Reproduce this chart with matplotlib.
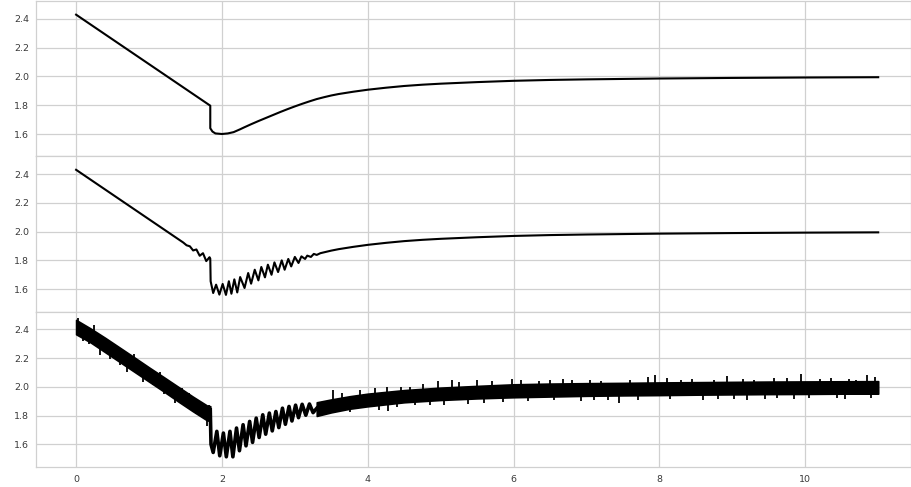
import matplotlib
matplotlib.use("Agg")
import matplotlib.pyplot as plt

# smooth response (top panel)
base_x = [0.0, 1.84, 1.84, 1.87, 1.91, 2.0, 2.08, 2.16, 2.25, 2.3, 2.4, 2.5, 2.6,
          2.7, 2.8, 2.9, 3.0, 3.1, 3.2, 3.3, 3.4, 3.5, 3.6, 3.8, 4.0, 4.25, 4.5,
          4.75, 5.0, 5.5, 6.0, 6.5, 7.0, 7.5, 8.0, 9.0, 10.0, 11.0]
base_y = [2.43, 1.797, 1.640, 1.617, 1.604, 1.600, 1.604, 1.613, 1.633, 1.645,
          1.668, 1.690, 1.711, 1.732, 1.753, 1.773, 1.792, 1.810, 1.827, 1.843,
          1.856, 1.868, 1.878, 1.894, 1.908, 1.922, 1.934, 1.943, 1.950, 1.961,
          1.970, 1.976, 1.980, 1.983, 1.986, 1.990, 1.993, 1.995]

# oscillating part of the middle panel (peaks / troughs)
wig_x = [1.47, 1.515, 1.56, 1.605, 1.65, 1.695, 1.74, 1.785, 1.83, 1.84, 1.845,
         1.88, 1.92, 1.965, 2.01, 2.055, 2.095, 2.13, 2.17, 2.21, 2.25, 2.31,
         2.36, 2.40, 2.45, 2.50, 2.54, 2.59, 2.63, 2.68, 2.72, 2.77, 2.82, 2.86,
         2.91, 2.95, 3.00, 3.05, 3.09, 3.14, 3.17, 3.22, 3.26, 3.30, 3.35]
wig_y = [1.924, 1.905, 1.898, 1.869, 1.876, 1.832, 1.850, 1.795, 1.822, 1.812,
         1.655, 1.573, 1.631, 1.562, 1.636, 1.560, 1.655, 1.568, 1.668, 1.577,
         1.684, 1.608, 1.712, 1.638, 1.735, 1.661, 1.754, 1.682, 1.770, 1.700,
         1.786, 1.719, 1.800, 1.735, 1.810, 1.758, 1.824, 1.782, 1.828, 1.810,
         1.833, 1.824, 1.845, 1.838, 1.850]

# noisy panel: core band before the drop and after the ringing
band1_x = [0.0, 0.2, 0.4, 0.6, 0.8, 1.0, 1.2, 1.4, 1.6, 1.8, 1.84]
band1_hi = [2.465, 2.405, 2.340, 2.272, 2.204, 2.135, 2.068, 2.000, 1.932, 1.868, 1.865]
band1_lo = [2.365, 2.308, 2.240, 2.172, 2.104, 2.036, 1.968, 1.898, 1.830, 1.765, 1.765]

band2_x = [3.3, 3.5, 3.75, 4.0, 4.5, 5.0, 5.5, 6.0, 6.5, 7.0, 7.5, 8.0, 8.5,
           9.0, 9.5, 10.0, 10.5, 11.0]
band2_hi = [1.892, 1.912, 1.934, 1.952, 1.977, 1.994, 2.006, 2.017, 2.022, 2.025,
            2.027, 2.030, 2.032, 2.034, 2.036, 2.037, 2.038, 2.039]
band2_lo = [1.797, 1.822, 1.847, 1.864, 1.892, 1.908, 1.919, 1.927, 1.932, 1.937,
            1.940, 1.942, 1.945, 1.947, 1.949, 1.950, 1.952, 1.952]

# noisy ringing after the drop
ring_x = [1.84, 1.85, 1.88, 1.93, 1.97, 2.02, 2.06, 2.11, 2.15, 2.20, 2.24, 2.29,
          2.33, 2.38, 2.42, 2.47, 2.51, 2.56, 2.60, 2.65, 2.69, 2.74, 2.78, 2.83,
          2.87, 2.92, 2.96, 3.01, 3.05, 3.10, 3.15, 3.20, 3.25, 3.30]
ring_y = [1.840, 1.600, 1.543, 1.690, 1.520, 1.678, 1.513, 1.690, 1.513, 1.713,
          1.555, 1.736, 1.589, 1.759, 1.613, 1.782, 1.647, 1.805, 1.670, 1.817,
          1.693, 1.828, 1.716, 1.851, 1.739, 1.863, 1.762, 1.872, 1.785, 1.878,
          1.802, 1.880, 1.820, 1.850]

# larger noise spikes sticking out of the band
spike_x = [0.02, 0.18, 0.33, 0.47, 0.70, 0.92, 1.05, 1.25, 1.45, 1.79, 1.82,
           3.53, 3.90, 4.26, 4.28, 4.58, 4.76, 4.97, 5.04, 5.15, 5.38, 5.50, 5.98,
           6.35, 6.68, 6.92, 7.20, 7.44, 7.85, 7.94, 8.30, 8.60, 8.93, 9.02, 9.30,
           9.57, 9.61, 9.94, 10.20, 10.43, 10.70, 10.84, 10.96]
spike_lo = [2.40, 2.30, 2.22, 2.19, 2.105, 2.035, 2.01, 1.95, 1.93, 1.727, 1.80,
            1.88, 1.90, 1.92, 1.831, 1.93, 1.95, 1.96, 1.871, 1.97, 1.878, 1.97, 1.98,
            1.98, 1.98, 1.90, 1.99, 1.889, 1.99, 1.99, 1.99, 1.91, 1.99, 1.912, 1.99,
            1.99, 1.92, 1.99, 1.99, 1.924, 1.99, 1.99, 1.99]
spike_hi = [2.476, 2.36, 2.30, 2.27, 2.19, 2.11, 2.07, 2.00, 1.99, 1.80, 1.87,
            1.98, 1.98, 2.00, 1.90, 2.00, 2.016, 2.039, 1.94, 2.05, 1.95, 2.05, 2.055,
            2.04, 2.056, 1.96, 2.04, 1.96, 2.069, 2.085, 2.05, 1.97, 2.078, 1.97, 2.05,
            2.062, 1.97, 2.092, 2.055, 1.97, 2.05, 2.08, 2.07]

# smaller roughness on the band edges
small_x = [0.10, 0.25, 0.55, 0.60, 0.80, 1.15, 1.20, 1.35, 1.55, 1.65, 1.70,
           3.65, 3.75, 4.10, 4.15, 4.40, 4.45, 4.65, 4.85, 5.25, 5.60, 5.70, 5.85,
           6.10, 6.20, 6.50, 6.55, 6.80, 7.05, 7.10, 7.30, 7.60, 7.70, 8.10, 8.15,
           8.45, 8.75, 8.80, 9.15, 9.20, 9.45, 9.75, 9.85, 10.05, 10.35, 10.55,
           10.60, 10.90]
small_lo = [2.32, 2.38, 2.26, 2.15, 2.19, 2.06, 1.95, 1.89, 1.91, 1.81, 1.88,
            1.91, 1.825, 1.95, 1.84, 1.86, 1.97, 1.87, 1.875, 1.99, 1.89, 2.00, 1.895,
            2.01, 1.90, 2.01, 1.905, 2.01, 2.02, 1.91, 1.905, 2.02, 1.91, 2.02, 1.915,
            2.02, 2.02, 1.915, 2.02, 1.91, 1.915, 2.03, 1.915, 1.92, 2.03, 1.915,
            2.03, 1.92]
small_hi = [2.38, 2.43, 2.29, 2.19, 2.23, 2.10, 1.99, 1.93, 1.96, 1.85, 1.90,
            1.96, 1.86, 1.99, 1.87, 1.89, 2.00, 1.90, 1.91, 2.03, 1.93, 2.04, 1.935,
            2.05, 1.94, 2.045, 1.945, 2.05, 2.05, 1.95, 1.945, 2.05, 1.95, 2.06, 1.955,
            2.055, 2.05, 1.955, 2.055, 1.95, 1.955, 2.06, 1.955, 1.96, 2.06, 1.955,
            2.055, 1.96]

mid_x = [0.0] + wig_x + [x for x in base_x if x >= 3.4]
mid_y = [2.43] + wig_y + [y for x, y in zip(base_x, base_y) if x >= 3.4]

GRID = "#d0d0d0"

fig = plt.figure(figsize=(9.11, 4.87), dpi=100)
left = 36 / 911
bottom = 20.3 / 487
top = 1 - 1.3 / 487
h = (top - bottom) / 3

axes = []
for i in range(3):
    kw = {}
    if axes:
        kw = {"sharex": axes[0], "sharey": axes[0]}
    ax = fig.add_axes([left, top - (i + 1) * h, 1 - left, h], **kw)
    ax.set_facecolor("white")
    ax.set_axisbelow(True)
    ax.grid(True, color=GRID, linewidth=0.9)
    for s in ax.spines.values():
        s.set_color(GRID)
        s.set_linewidth(0.9)
    ax.tick_params(length=0, labelsize=6.8, labelcolor="#3a3a3a", pad=5)
    axes.append(ax)

ax1, ax2, ax3 = axes

ax1.plot(base_x, base_y, color="black", linewidth=1.5)
ax2.plot(mid_x, mid_y, color="black", linewidth=1.5, solid_joinstyle="round")

# noisy signal
ax3.fill_between(band1_x, band1_lo, band1_hi, color="black", linewidth=1.2)
ax3.fill_between(band2_x, band2_lo, band2_hi, color="black", linewidth=1.2)
ax3.plot(ring_x, ring_y, color="black", linewidth=2.6, solid_joinstyle="round")
ax3.vlines(spike_x, spike_lo, spike_hi, color="black", linewidth=1.3)
ax3.vlines(small_x, small_lo, small_hi, color="black", linewidth=1.3)

ax1.set_xlim(-0.55, 11.45)
ax1.set_ylim(1.444, 2.523)
ax1.set_yticks([1.6, 1.8, 2.0, 2.2, 2.4])
ax1.set_yticklabels(["1.6", "1.8", "2.0", "2.2", "2.4"])
ax1.set_xticks([0, 2, 4, 6, 8, 10])
for ax in (ax1, ax2):
    ax.tick_params(labelbottom=False)
ax3.tick_params(axis="x", pad=6)

fig.savefig("out.png", dpi=100)
